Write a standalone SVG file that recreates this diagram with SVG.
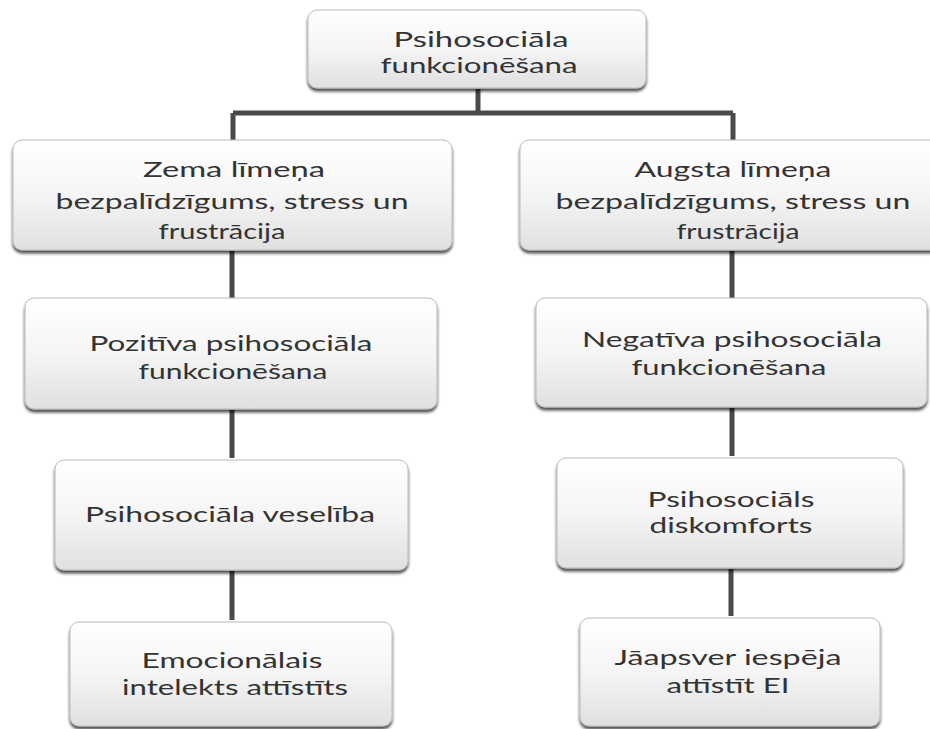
<svg xmlns="http://www.w3.org/2000/svg" width="930" height="729" viewBox="0 0 930 729">
<defs>
<linearGradient id="g" x1="0" y1="0" x2="0" y2="1">
<stop offset="0" stop-color="#ffffff"/>
<stop offset="0.5" stop-color="#f5f5f5"/>
<stop offset="1" stop-color="#e0e0e0"/>
</linearGradient>
<filter id="sh" x="-5%" y="-10%" width="110%" height="130%">
<feGaussianBlur in="SourceAlpha" stdDeviation="1.8"/>
<feOffset dx="0" dy="3" result="b"/>
<feComponentTransfer><feFuncA type="linear" slope="0.7"/></feComponentTransfer>
<feMerge><feMergeNode/><feMergeNode in="SourceGraphic"/></feMerge>
</filter>
</defs>
<style>
.box{fill:url(#g);stroke:#bcbcbc;stroke-width:1;filter:url(#sh)}
.t{font-family:Lato,"Open Sans",sans-serif;font-size:22px;fill:#333333;text-anchor:middle}
.c{stroke:#4a4a4a;stroke-width:5;fill:none}
</style>
<rect width="930" height="729" fill="#ffffff"/>
<g id="connectors">
<path class="c" d="M478 89V113M233 113H733M233 113V140M733 113V140"/>
<path class="c" d="M232 251V298M232 410V458M232 571V620"/>
<path class="c" d="M732 251V298M732 408V456M731 569V616"/>
</g>
<g id="n1">
<rect class="box" x="308" y="10" width="338" height="78" rx="9"/>
<text class="t" x="481" y="47" textLength="175" lengthAdjust="spacingAndGlyphs">Psihosociāla</text>
<text class="t" x="479" y="73" textLength="197" lengthAdjust="spacingAndGlyphs">funkcionēšana</text>
</g>
<g id="n2">
<rect class="box" x="13" y="140" width="439" height="110" rx="9"/>
<text class="t" x="234" y="177" textLength="182" lengthAdjust="spacingAndGlyphs">Zema līmeņa</text>
<text class="t" x="232" y="209" textLength="353" lengthAdjust="spacingAndGlyphs">bezpalīdzīgums, stress un</text>
<text class="t" x="222" y="239" textLength="127" lengthAdjust="spacingAndGlyphs">frustrācija</text>
</g>
<g id="n3">
<rect class="box" x="520" y="140" width="420" height="110" rx="9"/>
<text class="t" x="733" y="177" textLength="197" lengthAdjust="spacingAndGlyphs">Augsta līmeņa</text>
<text class="t" x="733" y="209" textLength="355" lengthAdjust="spacingAndGlyphs">bezpalīdzīgums, stress un</text>
<text class="t" x="738" y="239" textLength="123" lengthAdjust="spacingAndGlyphs">frustrācija</text>
</g>
<g id="n4">
<rect class="box" x="25" y="298" width="412" height="111" rx="9"/>
<text class="t" x="231" y="351" textLength="283" lengthAdjust="spacingAndGlyphs">Pozitīva psihosociāla</text>
<text class="t" x="233" y="379" textLength="189" lengthAdjust="spacingAndGlyphs">funkcionēšana</text>
</g>
<g id="n5">
<rect class="box" x="536" y="298" width="391" height="109" rx="9"/>
<text class="t" x="732" y="347" textLength="300" lengthAdjust="spacingAndGlyphs">Negatīva psihosociāla</text>
<text class="t" x="729" y="375" textLength="195" lengthAdjust="spacingAndGlyphs">funkcionēšana</text>
</g>
<g id="n6">
<rect class="box" x="55" y="460" width="353" height="110" rx="9"/>
<text class="t" x="230" y="522" textLength="290" lengthAdjust="spacingAndGlyphs">Psihosociāla veselība</text>
</g>
<g id="n7">
<rect class="box" x="557" y="458" width="346" height="110" rx="9"/>
<text class="t" x="731" y="507" textLength="167" lengthAdjust="spacingAndGlyphs">Psihosociāls</text>
<text class="t" x="731" y="533" textLength="163" lengthAdjust="spacingAndGlyphs">diskomforts</text>
</g>
<g id="n8">
<rect class="box" x="70" y="622" width="322" height="104" rx="9"/>
<text class="t" x="232" y="668" textLength="181" lengthAdjust="spacingAndGlyphs">Emocionālais</text>
<text class="t" x="235" y="695" textLength="226" lengthAdjust="spacingAndGlyphs">intelekts attīstīts</text>
</g>
<g id="n9">
<rect class="box" x="580" y="618" width="300" height="108" rx="9"/>
<text class="t" x="728" y="665" textLength="227" lengthAdjust="spacingAndGlyphs">Jāapsver iespēja</text>
<text class="t" x="728" y="693" textLength="123" lengthAdjust="spacingAndGlyphs">attīstīt EI</text>
</g>
</svg>
